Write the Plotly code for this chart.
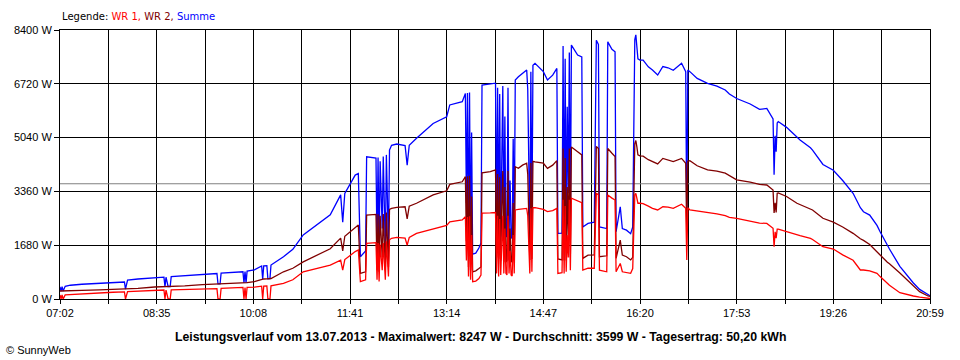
import pandas as pd
import plotly.graph_objects as go

DAY = "2013-07-13"

times = [
    "07:02", "07:03", "07:04", "07:05", "07:07", "07:12", "07:23", "07:40", "07:53", "08:04",
    "08:05", "08:07", "08:17", "08:33", "08:42", "08:43", "08:44", "08:46", "08:48", "08:49",
    "09:02", "09:19", "09:33", "09:34", "09:36", "09:37", "09:58", "09:59", "10:00", "10:01",
    "10:02", "10:09", "10:16", "10:17", "10:18", "10:21", "10:22", "10:24", "10:25", "10:37",
    "10:46", "10:56", "11:09", "11:22", "11:32", "11:34", "11:36", "11:41", "11:46", "11:49",
    "11:51", "11:56", "11:57", "12:06", "12:07", "12:08", "12:09", "12:10", "12:12", "12:13",
    "12:14", "12:15", "12:16", "12:18", "12:19", "12:21", "12:26", "12:34", "12:36", "12:38",
    "12:45", "13:01", "13:14", "13:17", "13:29", "13:32", "13:33", "13:34", "13:35", "13:36",
    "13:37", "13:38", "13:39", "13:42", "13:45", "13:47", "13:48", "13:56", "14:01", "14:02",
    "14:03", "14:04", "14:05", "14:06", "14:07", "14:08", "14:09", "14:10", "14:11", "14:12",
    "14:13", "14:14", "14:15", "14:16", "14:17", "14:18", "14:19", "14:20", "14:23", "14:27",
    "14:31", "14:32", "14:34", "14:35", "14:36", "14:37", "14:39", "14:47", "14:51", "14:56",
    "15:00", "15:01", "15:05", "15:06", "15:07", "15:08", "15:09", "15:10", "15:11", "15:12",
    "15:13", "15:14", "15:20", "15:24", "15:25", "15:30", "15:36", "15:38", "15:40", "15:41",
    "15:48", "15:49", "15:53", "15:56", "15:57", "16:01", "16:03", "16:07", "16:11", "16:13",
    "16:15", "16:16", "16:17", "16:18", "16:20", "16:23", "16:28", "16:32", "16:37", "16:42",
    "16:47", "16:52", "17:00", "17:04", "17:05", "17:06", "17:08", "17:15", "17:25", "17:34",
    "17:42", "17:46", "17:53", "18:06", "18:15", "18:22", "18:28", "18:29", "18:30", "18:31",
    "18:32", "18:33", "18:41", "18:51", "18:54", "19:04", "19:06", "19:16", "19:26", "19:35",
    "19:45", "19:52", "19:55", "20:01", "20:08", "20:11", "20:18", "20:20", "20:30", "20:37",
    "20:43", "20:49", "20:57", "20:59",
]

wr1 = [
    125, 0, 125, 0, 130, 140, 165, 195, 210, 220,
    0, 230, 245, 270, 280, 0, 280, 0, 0, 285,
    295, 310, 325, 0, 0, 330, 360, 0, 360, 0,
    365, 370, 400, 0, 400, 405, 0, 0, 410, 490,
    600, 850, 960, 1060, 1210, 900, 1230, 1370, 1480, 1530,
    540, 600, 1740, 1760, 600, 1750, 550, 1700, 900, 1750,
    1200, 600, 1800, 700, 1850, 1895, 1926, 1900, 1680, 1920,
    2050, 2200, 2300, 2410, 2470, 2570, 1200, 2560, 700, 2580,
    600, 2000, 540, 560, 640, 750, 2680, 2690, 2700, 800,
    2600, 700, 2500, 750, 1800, 2600, 800, 2200, 800, 750,
    2600, 800, 1500, 750, 720, 2000, 800, 2780, 2800, 2810,
    2830, 2600, 800, 2830, 850, 2850, 2850, 2800, 2730, 2760,
    2830, 800, 820, 3100, 800, 2900, 850, 2000, 1300, 3100,
    900, 3150, 3070, 3010, 900, 960, 960, 3300, 3250, 900,
    850, 3250, 3150, 3090, 850, 1110, 850, 830, 800, 950,
    3250, 3300, 3150, 2990, 2990, 2980, 2900, 2830, 2780, 2880,
    2870, 2830, 2960, 2830, 1220, 2850, 2780, 2750, 2700, 2660,
    2600, 2550, 2520, 2420, 2370, 2360, 2210, 1633, 2100, 1900,
    2180, 2180, 2100, 2000, 1980, 1895, 1860, 1633, 1560, 1380,
    1210, 906, 906, 880, 802, 700, 490, 430, 197, 130,
    94, 60, 22, 15,
]

wr2 = [
    250, 250, 250, 250, 255, 260, 270, 285, 300, 310,
    310, 320, 330, 375, 385, 385, 385, 390, 390, 395,
    410, 450, 470, 470, 470, 475, 500, 500, 505, 505,
    510, 540, 620, 620, 625, 630, 630, 635, 640, 850,
    960, 1160, 1370, 1570, 1900, 1500, 1960, 2100, 2250, 2310,
    800, 850, 2620, 2640, 900, 2650, 850, 2600, 1300, 2650,
    1800, 900, 2700, 1000, 2800, 2830, 2860, 2880, 2500, 2900,
    2990, 3250, 3380, 3580, 3660, 3820, 1800, 3830, 1000, 3850,
    900, 3200, 850, 880, 950, 1000, 3940, 3980, 4030, 1300,
    3900, 1250, 3800, 1200, 2900, 4000, 1150, 3500, 1150, 1200,
    4000, 1200, 2200, 1150, 1200, 3000, 1200, 4130, 4080, 4180,
    4240, 3900, 1220, 4250, 1250, 4300, 4280, 4240, 4080, 4180,
    4320, 1250, 1220, 4700, 1200, 4400, 1200, 3500, 2000, 4700,
    1300, 4750, 4600, 4500, 1270, 1370, 1380, 4760, 4700, 1320,
    1350, 4700, 4550, 4450, 1270, 1840, 1370, 1320, 1220, 1300,
    4850, 4947, 4750, 4500, 4470, 4460, 4350, 4290, 4220, 4390,
    4350, 4290, 4390, 4240, 2100, 4300, 4320, 4160, 4030, 3990,
    3930, 3850, 3720, 3650, 3580, 3560, 3400, 2685, 3000, 2700,
    3300, 3310, 3200, 2990, 2950, 2830, 2780, 2520, 2400, 2250,
    2050, 1880, 1830, 1700, 1450, 1374, 1150, 1100, 812, 593,
    400, 229, 94, 80,
]

summe = [
    380, 250, 385, 250, 395, 430, 460, 490, 510, 530,
    310, 590, 625, 660, 680, 385, 680, 390, 390, 700,
    735, 770, 795, 470, 470, 805, 850, 500, 860, 505,
    870, 910, 1030, 620, 1035, 1040, 630, 635, 1060, 1320,
    1550, 2000, 2310, 2630, 3250, 2400, 3300, 3600, 3870, 3920,
    1320, 1500, 4440, 4400, 1500, 4420, 1400, 4300, 2200, 4450,
    3000, 1500, 4500, 1700, 4650, 4800, 4840, 4790, 4180, 4800,
    5020, 5480, 5690, 6060, 6160, 6420, 3000, 6430, 1700, 6450,
    1500, 5200, 1400, 1430, 1590, 1750, 6680, 6720, 6740, 2050,
    6600, 1950, 6400, 1950, 4700, 6650, 1950, 5700, 1950, 1950,
    6600, 2000, 3700, 1900, 1920, 5000, 2000, 6840, 6940, 7040,
    7150, 6550, 2000, 7100, 2100, 7300, 7360, 7100, 6840, 6990,
    7200, 2050, 2060, 7900, 2000, 7500, 2050, 6000, 3300, 7700,
    2200, 7930, 7620, 7560, 2250, 2360, 2400, 8080, 7950, 2250,
    2200, 8030, 7800, 7720, 2100, 2880, 2200, 2150, 2040, 2250,
    8100, 8247, 7900, 7500, 7460, 7460, 7250, 7150, 6995, 7260,
    7220, 7140, 7360, 7100, 2160, 7150, 7100, 6890, 6735, 6650,
    6527, 6400, 6260, 6090, 5920, 5950, 5620, 3880, 5100, 4600,
    5500, 5540, 5360, 5050, 4965, 4720, 4650, 4200, 4020, 3700,
    3300, 2850, 2726, 2620, 2300, 2100, 1650, 1560, 1020, 730,
    500, 300, 125, 100,
]

average_w = 3599
y_tick_values = [0, 1680, 3360, 5040, 6720, 8400]
x_tick_labels = ["07:02", "08:35", "10:08", "11:41", "13:14", "14:47",
                 "16:20", "17:53", "19:26", "20:59"]

title_text = ("Leistungsverlauf vom 13.07.2013 - Maximalwert: 8247 W - "
              "Durchschnitt: 3599 W - Tagesertrag: 50,20 kWh")

x = [f"{DAY} {t}" for t in times]
start = pd.Timestamp(f"{DAY} {x_tick_labels[0]}")
end = pd.Timestamp(f"{DAY} {x_tick_labels[-1]}")
n_grid = 2 * (len(x_tick_labels) - 1)
step = (end - start) / n_grid
grid_vals = [(start + step * k).strftime("%Y-%m-%d %H:%M:%S") for k in range(n_grid + 1)]
grid_text = [x_tick_labels[k // 2] if k % 2 == 0 else "" for k in range(n_grid + 1)]

FONT = "Arial, 'Liberation Sans', sans-serif"
WIDE = "'DejaVu Sans', Verdana, sans-serif"

fig = go.Figure()
fig.add_trace(go.Scatter(x=[start, end], y=[average_w, average_w], mode="lines",
                         line=dict(color="#808080", width=1), hoverinfo="skip",
                         showlegend=False))
fig.add_trace(go.Scatter(x=x, y=summe, mode="lines", name="Summe",
                         line=dict(color="#0000FF", width=1.3)))
fig.add_trace(go.Scatter(x=x, y=wr2, mode="lines", name="WR 2",
                         line=dict(color="#800000", width=1.3)))
fig.add_trace(go.Scatter(x=x, y=wr1, mode="lines", name="WR 1",
                         line=dict(color="#FF0000", width=1.3)))

fig.update_layout(
    width=960, height=360,
    margin=dict(l=60, r=30, t=30, b=61),
    paper_bgcolor="white", plot_bgcolor="white",
    showlegend=False,
    font=dict(family=FONT, size=11, color="black"),
)
fig.update_xaxes(
    type="date", range=[start, end],
    tickmode="array", tickvals=grid_vals, ticktext=grid_text,
    showgrid=True, gridcolor="black", gridwidth=1,
    showline=True, linecolor="black", linewidth=1, mirror=True,
    ticks="outside", ticklen=4, tickcolor="black",
    tickfont=dict(family=FONT, size=11, color="black"),
    zeroline=False, fixedrange=True,
)
fig.update_yaxes(
    range=[0, 8400],
    tickmode="array", tickvals=y_tick_values,
    ticktext=[f"{v} W" for v in y_tick_values],
    showgrid=True, gridcolor="black", gridwidth=1,
    showline=True, linecolor="black", linewidth=1, mirror=True,
    ticks="outside", ticklen=5, tickcolor="black",
    tickfont=dict(family=FONT, size=11, color="black"),
    zeroline=False, fixedrange=True,
)

fig.add_annotation(
    xref="paper", yref="paper", x=0, y=1 + 14 / 269, xanchor="left", yanchor="middle",
    showarrow=False,
    text=("Legende: <span style='color:#FF0000'>WR 1,</span> "
          "<span style='color:#800000'>WR 2,</span> "
          "<span style='color:#0000FF'>Summe</span>"),
    font=dict(family=WIDE, size=10, color="black"),
)
fig.add_annotation(
    xref="paper", yref="paper", x=(480 - 60) / 870, y=(299 - 337) / 269,
    xanchor="center", yanchor="middle", showarrow=False,
    text=f"<b>{title_text}</b>",
    font=dict(family=FONT, size=12.3, color="black"),
)
fig.add_annotation(
    xref="paper", yref="paper", x=(4 - 60) / 870, y=(299 - 350) / 269,
    xanchor="left", yanchor="middle", showarrow=False,
    text="© SunnyWeb",
    font=dict(family=FONT, size=11, color="black"),
)

fig.write_html("out.html", config={"displayModeBar": False},
               post_script="document.body.style.margin='0';")
